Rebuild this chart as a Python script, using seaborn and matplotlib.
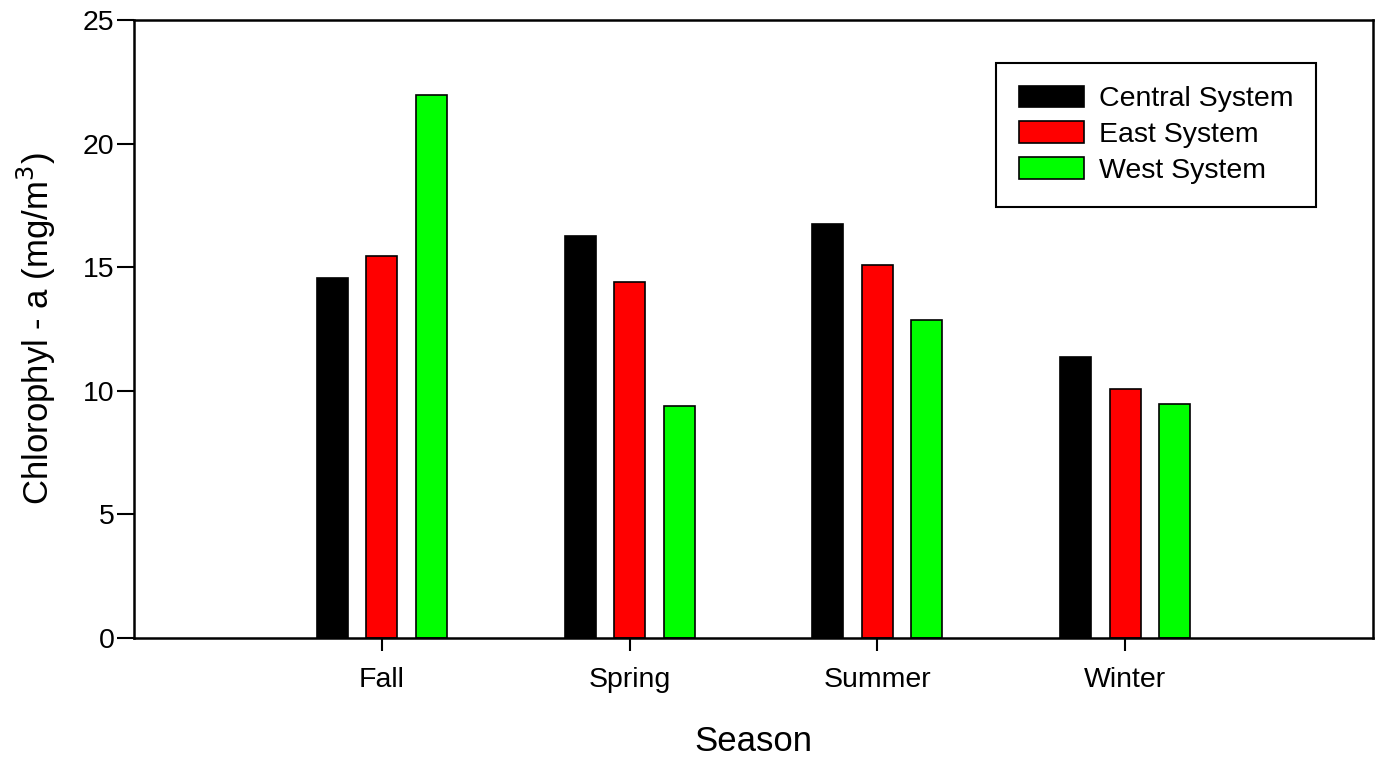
import pandas as pd
import numpy as np
import matplotlib
matplotlib.use("Agg")
import matplotlib.pyplot as plt
import seaborn as sns

# Chart data
seasons = ["Fall", "Spring", "Summer", "Winter"]
systems = ["Central System", "East System", "West System"]
central = [14.58, 16.28, 16.75, 11.37]
east = [15.45, 14.40, 15.10, 10.06]
west = [21.95, 9.37, 12.87, 9.47]
colors = ["#000000", "#ff0000", "#00ff00"]

df = pd.DataFrame({
    "Season": seasons * 3,
    "System": [s for s in systems for _ in seasons],
    "Chl": central + east + west,
})

sns.set_style("ticks")
plt.rcParams["font.family"] = ["Liberation Sans", "DejaVu Sans"]
plt.rcParams["text.color"] = "black"
plt.rcParams["axes.labelcolor"] = "black"
plt.rcParams["xtick.color"] = "black"
plt.rcParams["ytick.color"] = "black"

fig = plt.figure(figsize=(13.78, 7.59), dpi=100)
ax = fig.add_axes([0.0972, 0.1594, 0.8992, 0.8142])

sns.barplot(data=df, x="Season", y="Chl", hue="System", order=seasons,
            hue_order=systems, palette=colors, width=0.6, gap=0.375,
            edgecolor="black", linewidth=1.2, saturation=1, ax=ax)

ax.set_xlim(-1, 4)
ax.set_ylim(0, 25)
ax.set_yticks([0, 5, 10, 15, 20, 25])
ax.set_xlabel("Season", fontsize=25, labelpad=23)
ax.set_ylabel("Chlorophyl - a (mg/m$^3$)", fontsize=25, labelpad=18)
ax.tick_params(axis="x", labelsize=20.5, length=9, width=1.5, pad=12)
ax.tick_params(axis="y", labelsize=20.5, length=12, width=1.5, pad=2)
for sp in ax.spines.values():
    sp.set_visible(True)
    sp.set_linewidth(1.8)
    sp.set_color("black")

handles, labels = ax.get_legend_handles_labels()
leg = ax.legend(handles, labels, loc="upper left",
                bbox_to_anchor=(0.7228, 0.917), bbox_transform=fig.transFigure,
                borderaxespad=0, fontsize=20.5, frameon=True, fancybox=False,
                handlelength=2.3, handleheight=0.78, handletextpad=0.5,
                labelspacing=0.32, borderpad=0.8)
leg.get_frame().set_edgecolor("black")
leg.get_frame().set_linewidth(1.5)
leg.get_frame().set_alpha(1)

fig.savefig("out.png", dpi=100)
